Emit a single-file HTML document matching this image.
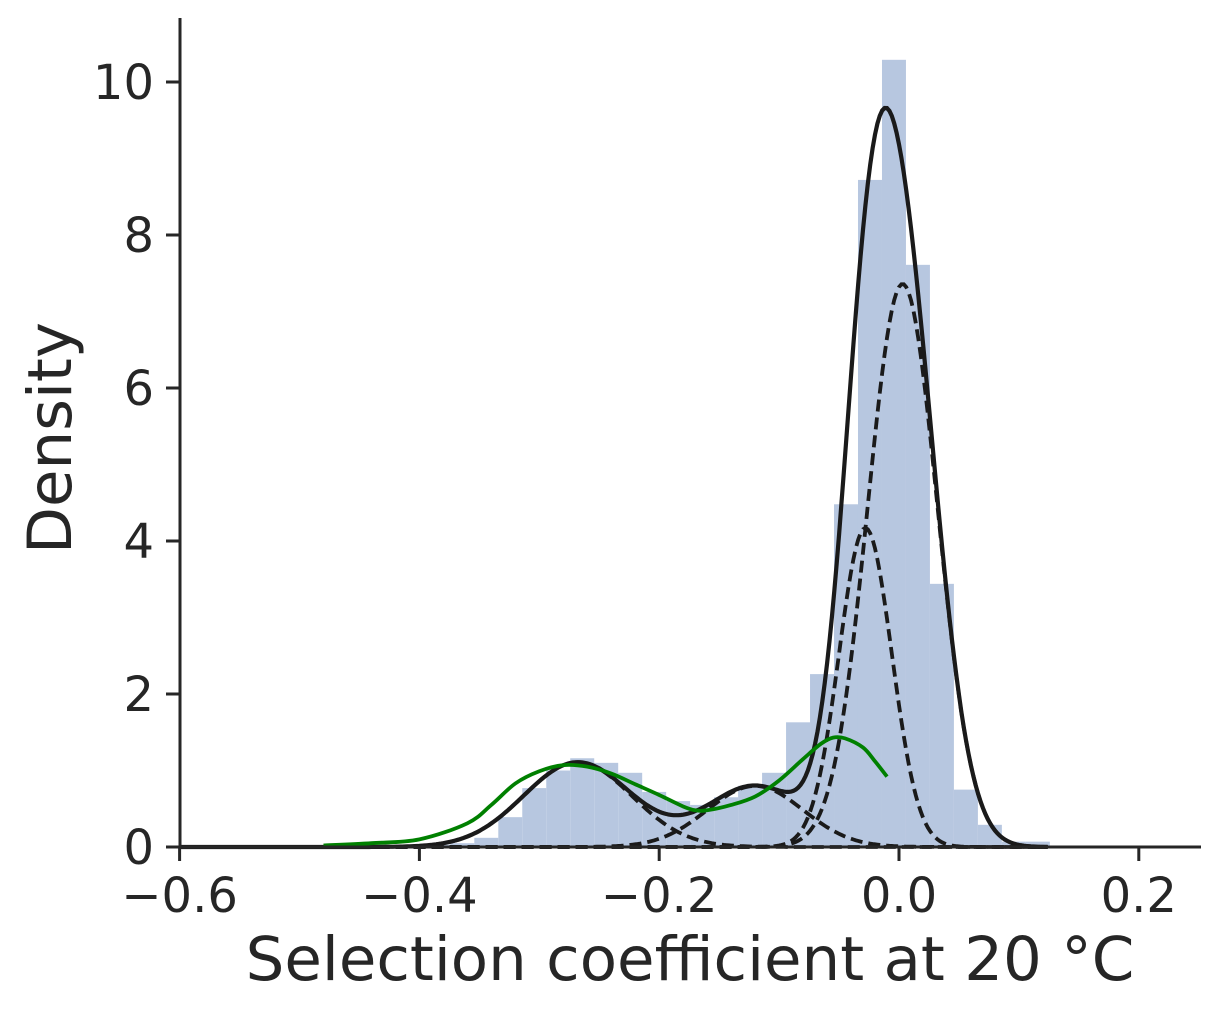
<!DOCTYPE html>
<html><head><meta charset="utf-8"><style>
html,body{margin:0;padding:0;background:#fff;}
svg{display:block;font-family:"DejaVu Sans","Liberation Sans",sans-serif;}
</style></head><body>
<svg id="chart" width="1220" height="1012"></svg>
<script>
const binStart = -0.0942;
const binWidth = 0.02;
const binHeights = [0.03,0.05,0.12,0.39,0.77,1.0,1.16,1.1,0.97,0.72,0.6,0.55,0.65,0.8,0.97,1.63,2.26,4.48,8.72,10.29,7.61,3.44,0.75,0.29,0.07,0.07];
const binOffset = -15;
const compMeans = [-0.268,-0.12,-0.028,0.003];
const compSds = [0.045,0.04,0.022,0.029];
const compWeights = [0.125,0.08,0.23,0.535];
const greenX = [-0.48,-0.44,-0.40,-0.36,-0.34,-0.32,-0.30,-0.28,-0.26,-0.24,-0.22,-0.20,-0.18,-0.17,-0.16,-0.14,-0.12,-0.10,-0.08,-0.065,-0.055,-0.045,-0.03,-0.02,-0.01];
const greenY = [0.02,0.05,0.1,0.31,0.55,0.83,0.99,1.07,1.05,0.96,0.82,0.68,0.53,0.48,0.48,0.55,0.66,0.87,1.15,1.35,1.43,1.42,1.3,1.12,0.92];
const xTicks = [-0.6,-0.4,-0.2,0.0,0.2];
const xTickLabels = ["\u22120.6","\u22120.4","\u22120.2","0.0","0.2"];
const yTicks = [0,2,4,6,8,10];

const NS="http://www.w3.org/2000/svg";
const svg=document.getElementById('chart');
const X=v=>899+v*1199;
const Y=v=>847-v*76.5;
function mk(t,a,p){const e=document.createElementNS(NS,t);for(const k in a)e.setAttribute(k,a[k]);(p||svg).appendChild(e);return e;}

const gb=mk('g',{});


binHeights.forEach((h,i)=>{
  const x0=binStart+(i+binOffset)*binWidth;
  const r=mk('rect',{x:X(x0),y:Y(h),width:X(x0+binWidth)-X(x0),height:Y(0)-Y(h),fill:'#b7c7e0'},gb);
  
  
});
function pdf(x,i){return compWeights[i]/(compSds[i]*Math.sqrt(2*Math.PI))*Math.exp(-((x-compMeans[i])**2)/(2*compSds[i]**2));}
const xs=[];for(let x=-0.6;x<=0.125;x+=0.002)xs.push(x);
compMeans.forEach((m,i)=>{
  const d=xs.map((x,j)=>(j?'L':'M')+X(x).toFixed(1)+','+Y(pdf(x,i)).toFixed(1)).join('');
  const p=mk('path',{d:d,fill:'none',stroke:'#1a1a1a','stroke-width':3.8,'stroke-dasharray':'12,6'});
  
  
});
{
  const d=xs.map((x,j)=>{let s=0;for(let i=0;i<compMeans.length;i++)s+=pdf(x,i);return (j?'L':'M')+X(x).toFixed(1)+','+Y(s).toFixed(1);}).join('');
  const p=mk('path',{d:d,fill:'none',stroke:'#1a1a1a','stroke-width':4.2});
  
  
}
{
  const P=greenX.map((x,i)=>[X(x),Y(greenY[i])]);
  let d='M'+P[0][0]+','+P[0][1];
  for(let i=0;i<P.length-1;i++){
    const p0=P[i-1]||P[i],p1=P[i],p2=P[i+1],p3=P[i+2]||p2;
    d+='C'+(p1[0]+(p2[0]-p0[0])/6)+','+(p1[1]+(p2[1]-p0[1])/6)+' '+(p2[0]-(p3[0]-p1[0])/6)+','+(p2[1]-(p3[1]-p1[1])/6)+' '+p2[0]+','+p2[1];
  }
  const p=mk('path',{d:d,fill:'none',stroke:'#008000','stroke-width':3.8});
  
  
}
const ax=mk('g',{stroke:'#262626','stroke-width':3});


mk('line',{x1:180,y1:18,x2:180,y2:848},ax);
mk('line',{x1:179,y1:847,x2:1201,y2:847},ax);
xTicks.forEach((t,i)=>{
  mk('line',{x1:X(t),y1:847,x2:X(t),y2:861},ax);
  const tx=mk('text',{x:X(t),y:912,'text-anchor':'middle','font-size':48,fill:'#262626'});
  tx.textContent=xTickLabels[i];
  
  
});
yTicks.forEach(t=>{
  mk('line',{x1:166,y1:Y(t),x2:180,y2:Y(t)},ax);
  const tx=mk('text',{x:154,y:Y(t)+17,'text-anchor':'end','font-size':48,fill:'#262626'});
  tx.textContent=String(t);
  
  
});
const xl=mk('text',{x:690,y:980,'text-anchor':'middle','font-size':61,fill:'#262626'});
xl.textContent='Selection coefficient at 20 \u00b0C';


const yl=mk('text',{x:0,y:0,'text-anchor':'middle','font-size':61,fill:'#262626',transform:'translate(71,438) rotate(-90)'});
yl.textContent='Density';


</script>
</body></html>
